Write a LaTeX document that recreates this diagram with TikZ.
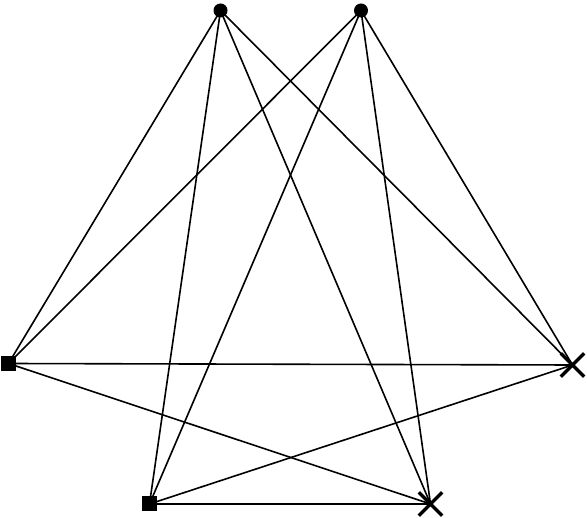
\documentclass[tikz,border=0pt]{standalone}
\usetikzlibrary{shapes.misc,backgrounds}
\begin{document}
\begin{tikzpicture}[x=1pt,y=-1pt,
  edge/.style={line width=1.6pt,black},
  dotnode/.style={circle,fill=black,inner sep=0pt,minimum size=14pt},
  sqnode/.style={rectangle,fill=black,inner sep=0pt,minimum size=15pt},
  xnode/.style={cross out,draw=black,line width=3.3pt,inner sep=0pt,minimum size=20pt}]
\useasboundingbox (0,0) rectangle (587,518);
\node[dotnode] (c1) at (220.5,10.5) {};
\node[dotnode] (c2) at (361,10.5) {};
\node[sqnode] (s1) at (8.5,363.5) {};
\node[sqnode] (s2) at (149.5,504) {};
\node[xnode] (x1) at (572.5,365) {};
\node[xnode] (x2) at (430.5,504) {};
\begin{scope}[on background layer]
\foreach \a in {c1,c2}{
  \foreach \b in {s1,s2,x1,x2}{
    \draw[edge] (\a.center) -- (\b.center);
  }
}
\foreach \a in {s1,s2}{
  \foreach \b in {x1,x2}{
    \draw[edge] (\a.center) -- (\b.center);
  }
}
\end{scope}
\end{tikzpicture}
\end{document}
